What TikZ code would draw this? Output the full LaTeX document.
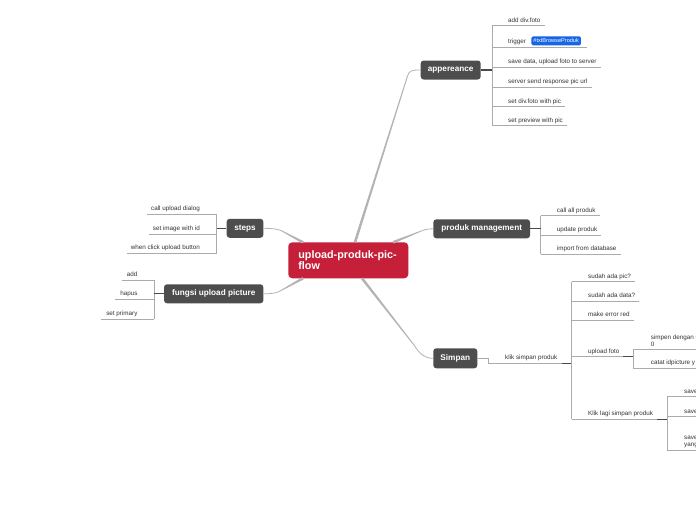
\documentclass[tikz,border=0pt]{standalone}
\usepackage{fontspec}
\setmainfont{Liberation Sans}
\usetikzlibrary{calc}
\definecolor{nodegray}{HTML}{4D4D4D}
\definecolor{mainred}{HTML}{C51F3A}
\definecolor{conngray}{HTML}{B3B3B3}
\definecolor{linegray}{HTML}{ABABAB}
\definecolor{stubgray}{HTML}{4A4A4A}
\definecolor{leaftext}{HTML}{333333}
\definecolor{badgeblue}{HTML}{1565E6}
\newcommand\tapr[2]{\fill[connfill] ($(#1)!1.3pt!90:(#2)$) -- ($(#2)!0.45pt!-90:(#1)$) -- ($(#2)!0.45pt!90:(#1)$) -- ($(#1)!1.3pt!-90:(#2)$) -- cycle;}
\begin{document}
\begin{tikzpicture}[x=1pt,y=-1pt,
 topic/.style={fill=nodegray,text=white,font=\bfseries\fontsize{8.2}{9}\selectfont,rounded corners=3pt,minimum height=19pt,inner xsep=0pt,inner ysep=0pt},
 root/.style={fill=mainred,text=white,font=\bfseries\fontsize{10.8}{11.5}\selectfont,rounded corners=4pt,minimum height=36pt,text width=100pt,align=left,inner xsep=10pt},
 leafR/.style={anchor=base west,inner sep=0pt,font=\fontsize{6.3}{7.3}\selectfont,text=leaftext},
 leafL/.style={anchor=base east,inner sep=0pt,font=\fontsize{6.3}{7.3}\selectfont,text=leaftext},
 leafM/.style={anchor=west,inner sep=0pt,align=left,font=\fontsize{6.3}{7.3}\selectfont,text=leaftext},
 uline/.style={draw=linegray,line width=0.7pt},
 bracket/.style={draw=linegray,line width=0.8pt},
 stub/.style={draw=stubgray,line width=1.3pt},
 conn/.style={draw=conngray,line width=0.8pt,line cap=round},
 connfill/.style={fill=conngray},
 badge/.style={fill=badgeblue,text=white,rounded corners=1.5pt,font=\fontsize{5.6}{6}\selectfont,inner xsep=2pt,inner ysep=0pt,minimum height=9pt}
]
\useasboundingbox (0,0) rectangle (696,520);
\fill[white] (0,0) rectangle (696,520);

% main nodes
\node[root] (root) at (348.3,260.3) {upload-produk-pic-\\flow};
\node[topic,minimum width=60pt] (app) at (450.7,70) {appereance};
\node[topic,minimum width=96.7pt] (pm) at (481.7,228.8) {produk management};
\node[topic,minimum width=44pt,minimum height=20pt] (simp) at (455.3,358.3) {Simpan};
\node[topic,minimum width=36.7pt] (steps) at (245,228.3) {steps};
\node[topic,minimum width=99.3pt] (fup) at (213.7,293.8) {fungsi upload picture};

% connectors from root
\coordinate (rA) at (355,242.3); \coordinate (rAb) at (407.5,76);
\tapr{rA}{rAb}
\draw[conn] (rAb) .. controls (409.5,70.5) and (411,70) .. (app.west);
\coordinate (rP) at (393,242.3); \coordinate (rPb) at (420,231.5);
\tapr{rP}{rPb}
\draw[conn] (rPb) .. controls (425,229.5) and (428,228.8) .. (pm.west);
\coordinate (rS) at (362,278.3); \coordinate (rSb) at (414,345);
\tapr{rS}{rSb}
\draw[conn] (rSb) .. controls (419,353) and (424,358.3) .. (simp.west);
\coordinate (rT) at (303,242.3); \coordinate (rTb) at (282,231);
\tapr{rT}{rTb}
\draw[conn] (rTb) .. controls (278,229) and (272,228.3) .. (steps.east);
\coordinate (rF) at (303,278.3); \coordinate (rFb) at (281,290.5);
\tapr{rF}{rFb}
\draw[conn] (rFb) .. controls (277,293) and (272,293.8) .. (fup.east);

% appereance leaves
\draw[bracket] (492,25.7) -- (492,125.7);
\draw[stub] (app.east) -- (492,70);
\node[leafR] (a1) at (508,22) {add div.foto};
\draw[uline] ([xshift=-16pt,yshift=-3.7pt]a1.base west) -- ([xshift=4pt,yshift=-3.7pt]a1.base east);
\node[leafR] (a2) at (508,43.5) {trigger};
\node[badge,anchor=west] (bdg) at ([xshift=5pt,yshift=1pt]a2.east) {\#txtBrowseProduk};
\coordinate (a2u) at (508,47.7);
\draw[uline] ([xshift=-16pt]a2u) -- ([xshift=6pt]bdg.east |- a2u);
\node[leafR] (a3) at (508,63.8) {save data, upload foto to server};
\draw[uline] ([xshift=-16pt,yshift=-3.7pt]a3.base west) -- ([xshift=4pt,yshift=-3.7pt]a3.base east);
\node[leafR] (a4) at (508,83.3) {server send response pic url};
\draw[uline] ([xshift=-16pt,yshift=-3.7pt]a4.base west) -- ([xshift=4pt,yshift=-3.7pt]a4.base east);
\node[leafR] (a5) at (508,103) {set div.foto with pic};
\draw[uline] ([xshift=-16pt,yshift=-3.7pt]a5.base west) -- ([xshift=4pt,yshift=-3.7pt]a5.base east);
\node[leafR] (a6) at (508,122) {set preview with pic};
\draw[uline] ([xshift=-16pt,yshift=-3.7pt]a6.base west) -- ([xshift=4pt,yshift=-3.7pt]a6.base east);

% produk management leaves
\draw[bracket] (540.7,215.7) -- (540.7,254.3);
\draw[stub] (pm.east) -- (540.7,228.8);
\node[leafR] (p1) at (556.7,212) {call all produk};
\draw[uline] ([xshift=-16pt,yshift=-3.7pt]p1.base west) -- ([xshift=4pt,yshift=-3.7pt]p1.base east);
\node[leafR] (p2) at (556.7,231.3) {update produk};
\draw[uline] ([xshift=-16pt,yshift=-3.7pt]p2.base west) -- ([xshift=4pt,yshift=-3.7pt]p2.base east);
\node[leafR] (p3) at (556.7,250.6) {import from database};
\draw[uline] ([xshift=-16pt,yshift=-3.7pt]p3.base west) -- ([xshift=4pt,yshift=-3.7pt]p3.base east);

% steps leaves
\draw[bracket] (216.7,214.3) -- (216.7,253.3);
\draw[stub] (steps.west) -- (216.7,228.3);
\node[leafL] (s1) at (200,210.6) {call upload dialog};
\draw[uline] ([xshift=-4pt,yshift=-3.7pt]s1.base west) -- ([xshift=16.7pt,yshift=-3.7pt]s1.base east);
\node[leafL] (s2) at (200,230.3) {set image with id};
\draw[uline] ([xshift=-4pt,yshift=-3.7pt]s2.base west) -- ([xshift=16.7pt,yshift=-3.7pt]s2.base east);
\node[leafL] (s3) at (200,249.6) {when click upload button};
\draw[uline] ([xshift=-4pt,yshift=-3.7pt]s3.base west) -- ([xshift=16.7pt,yshift=-3.7pt]s3.base east);

% fungsi upload picture leaves
\draw[bracket] (154,280) -- (154,319);
\draw[stub] (fup.west) -- (154,293.8);
\node[leafL] (f1) at (137.7,276.3) {add};
\draw[uline] ([xshift=-5pt,yshift=-3.7pt]f1.base west) -- ([xshift=16.3pt,yshift=-3.7pt]f1.base east);
\node[leafL] (f2) at (137.7,295.6) {hapus};
\draw[uline] ([xshift=-5pt,yshift=-3.7pt]f2.base west) -- ([xshift=16.3pt,yshift=-3.7pt]f2.base east);
\node[leafL] (f3) at (137.7,315.3) {set primary};
\draw[uline] ([xshift=-5pt,yshift=-3.7pt]f3.base west) -- ([xshift=16.3pt,yshift=-3.7pt]f3.base east);

% Simpan branch
\node[leafR] (k0) at (505,359.6) {klik simpan produk};
\coordinate (k0s) at (488,363.3);
\coordinate (k0e) at (571.7,363.3);
\draw[uline] (simp.east) -- (k0s |- simp.east) -- (k0s) -- (k0e);
\draw[stub] ([xshift=-10pt]k0e) -- (k0e);
\draw[bracket] (571.7,281.7) -- (571.7,419.3);
\node[leafR] (k1) at (588,278) {sudah ada pic?};
\draw[uline] ([xshift=-16.3pt,yshift=-3.7pt]k1.base west) -- ([xshift=4pt,yshift=-3.7pt]k1.base east);
\node[leafR] (k2) at (588,297.3) {sudah ada data?};
\draw[uline] ([xshift=-16.3pt,yshift=-3.7pt]k2.base west) -- ([xshift=4pt,yshift=-3.7pt]k2.base east);
\node[leafR] (k3) at (588,316.3) {make error red};
\draw[uline] ([xshift=-16.3pt,yshift=-3.7pt]k3.base west) -- ([xshift=4pt,yshift=-3.7pt]k3.base east);
\node[leafR] (k4) at (588,353) {upload foto};
\coordinate (k4e) at (633.3,356.7);
\draw[uline] ([xshift=-16.3pt,yshift=-3.7pt]k4.base west) -- (k4e);
\draw[stub] ([xshift=-10pt]k4e) -- (k4e);
\node[leafR] (k5) at (588,415.6) {Klik lagi simpan produk};
\coordinate (k5e) at (667.3,419.3);
\draw[uline] ([xshift=-16.3pt,yshift=-3.7pt]k5.base west) -- (k5e);
\draw[stub] ([xshift=-10.6pt]k5e) -- (k5e);

% upload foto children
\draw[bracket] (633.3,349.3) -- (633.3,368.3);
\node[leafM] (u1) at (650.7,340.5) {simpen dengan i\\0};
\draw[uline] (633.3,349.3) -- (700,349.3);
\node[leafR] (u2) at (650.7,364.6) {catat idpicture y};
\draw[uline] (633.3,368.3) -- (700,368.3);

% Klik lagi children
\draw[bracket] (667.3,396.7) -- (667.3,450.7);
\node[leafR] (v1) at (684,393) {save};
\draw[uline] (667.3,396.7) -- (700,396.7);
\node[leafR] (v2) at (684,413) {save};
\draw[uline] (667.3,416.7) -- (700,416.7);
\node[leafM] (v3) at (684,441.7) {save\\yang};
\draw[uline] (667.3,450.7) -- (700,450.7);
\end{tikzpicture}
\end{document}
